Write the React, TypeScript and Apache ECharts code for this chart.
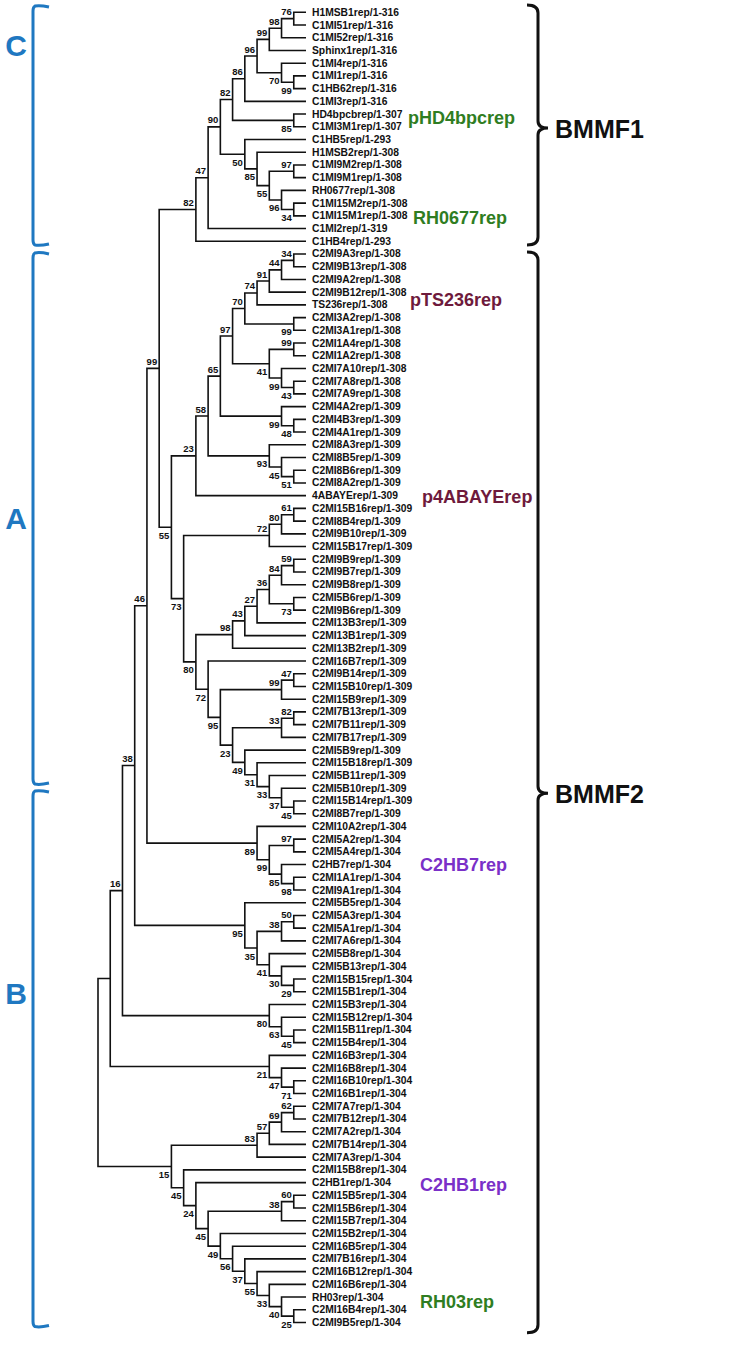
import React, { useEffect, useRef } from "react";
import * as echarts from "echarts";

const leafNames = [
  "H1MSB1rep/1-316", "C1MI51rep/1-316", "C1MI52rep/1-316", "Sphinx1rep/1-316",
  "C1MI4rep/1-316", "C1MI1rep/1-316", "C1HB62rep/1-316", "C1MI3rep/1-316",
  "HD4bpcbrep/1-307", "C1MI3M1rep/1-307", "C1HB5rep/1-293", "H1MSB2rep/1-308",
  "C1MI9M2rep/1-308", "C1MI9M1rep/1-308", "RH0677rep/1-308", "C1MI15M2rep/1-308",
  "C1MI15M1rep/1-308", "C1MI2rep/1-319", "C1HB4rep/1-293",
  "C2MI9A3rep/1-308", "C2MI9B13rep/1-308", "C2MI9A2rep/1-308", "C2MI9B12rep/1-308",
  "TS236rep/1-308", "C2MI3A2rep/1-308", "C2MI3A1rep/1-308", "C2MI1A4rep/1-308",
  "C2MI1A2rep/1-308", "C2MI7A10rep/1-308", "C2MI7A8rep/1-308", "C2MI7A9rep/1-308",
  "C2MI4A2rep/1-309", "C2MI4B3rep/1-309", "C2MI4A1rep/1-309", "C2MI8A3rep/1-309",
  "C2MI8B5rep/1-309", "C2MI8B6rep/1-309", "C2MI8A2rep/1-309", "4ABAYErep/1-309",
  "C2MI15B16rep/1-309", "C2MI8B4rep/1-309", "C2MI9B10rep/1-309", "C2MI15B17rep/1-309",
  "C2MI9B9rep/1-309", "C2MI9B7rep/1-309", "C2MI9B8rep/1-309", "C2MI5B6rep/1-309",
  "C2MI9B6rep/1-309", "C2MI13B3rep/1-309", "C2MI13B1rep/1-309", "C2MI13B2rep/1-309",
  "C2MI16B7rep/1-309", "C2MI9B14rep/1-309", "C2MI15B10rep/1-309", "C2MI15B9rep/1-309",
  "C2MI7B13rep/1-309", "C2MI7B11rep/1-309", "C2MI7B17rep/1-309", "C2MI5B9rep/1-309",
  "C2MI15B18rep/1-309", "C2MI5B11rep/1-309", "C2MI5B10rep/1-309", "C2MI15B14rep/1-309",
  "C2MI8B7rep/1-309",
  "C2MI10A2rep/1-304", "C2MI5A2rep/1-304", "C2MI5A4rep/1-304", "C2HB7rep/1-304",
  "C2MI1A1rep/1-304", "C2MI9A1rep/1-304", "C2MI5B5rep/1-304", "C2MI5A3rep/1-304",
  "C2MI5A1rep/1-304", "C2MI7A6rep/1-304", "C2MI5B8rep/1-304", "C2MI5B13rep/1-304",
  "C2MI15B15rep/1-304", "C2MI15B1rep/1-304", "C2MI15B3rep/1-304", "C2MI15B12rep/1-304",
  "C2MI15B11rep/1-304", "C2MI15B4rep/1-304", "C2MI16B3rep/1-304", "C2MI16B8rep/1-304",
  "C2MI16B10rep/1-304", "C2MI16B1rep/1-304", "C2MI7A7rep/1-304", "C2MI7B12rep/1-304",
  "C2MI7A2rep/1-304", "C2MI7B14rep/1-304", "C2MI7A3rep/1-304", "C2MI15B8rep/1-304",
  "C2HB1rep/1-304", "C2MI15B5rep/1-304", "C2MI15B6rep/1-304", "C2MI15B7rep/1-304",
  "C2MI15B2rep/1-304", "C2MI16B5rep/1-304", "C2MI7B16rep/1-304", "C2MI16B12rep/1-304",
  "C2MI16B6rep/1-304", "RH03rep/1-304", "C2MI16B4rep/1-304", "C2MI9B5rep/1-304",
];

// Topology (Newick, leaves = 1-based index into leafNames; internal label = bootstrap + a(bove)/b(elow))
const cladeC =
  "(((((((((1,2)76a,3)98a,4)99a,(5,(6,7)99b)70b)96a,8)86a,(9,10)85b)82a,(11,(12,((13,14)97a,(15,(16,17)34b)96b)55b)85b)50b)90a,18)47a,19)82a";
const node97 =
  "((((((20,21)34a,22)44a,23)91a,24)74a,(25,26)99b)70a,((27,28)99a,(29,(30,31)43b)99b)41b)97a";
const node23 = "(((" + node97 + ",(32,(33,34)48b)99b)65a,(35,(36,(37,38)51b)45b)93b)58a,39)23a";
const node72 = "(((40,41)61a,42)80a,43)72a";
const node98 = "((((((44,45)59a,46)84a,(47,48)73b)36a,49)27a,50)43a,51)98a";
const node95 =
  "(((53,54)47a,55)99a,(((56,57)82a,58)33a,(59,(60,(61,(62,(63,64)45b)37b)33b)31b)49b)23b)95b";
const node73 = "(" + node72 + ",(" + node98 + ",(52," + node95 + ")72b)80b)73b";
const node99 = "(" + cladeC + ",(" + node23 + "," + node73 + ")55b)99a";
const node89 = "(65,((66,67)97a,(68,(69,70)98b)85b)99b)89b";
const node95B = "(71,(((72,73)50a,74)38a,(75,(76,(77,78)29b)30b)41b)35b)95b";
const node80B = "(79,(80,(81,82)45b)63b)80b";
const node21 = "(83,(84,(85,86)71b)47b)21b";
const node16 = "(((" + node99 + "," + node89 + ")46a," + node95B + ")38a," + node80B + ")16a";
const node83 = "((((87,88)62a,89)69a,90)57a,91)83a";
const node45 =
  "(92,(93,(((94,95)60a,96)38a,(97,(98,(99,(100,(101,(102,(103,104)25b)40b)33b)55b)37b)56b)49b)45b)24b)45b";
const treeNewick = "((" + node16 + "," + node21 + "),(" + node83 + "," + node45 + ")15b)";

// Bracket annotations (leaf-index ranges)
const leftGroups = [
  { name: "C", from: -0.57, to: 18.37, textAt: 2.6 },
  { name: "A", from: 18.84, to: 60.75, textAt: 39.8 },
  { name: "B", from: 61.14, to: 103.4, textAt: 77.1 },
];
const rightGroups = [
  { name: "BMMF1", from: -0.57, to: 18.3, mid: 9.1 },
  { name: "BMMF2", from: 18.85, to: 103.8, mid: 61.4 },
];
const highlightLabels = [
  { text: "pHD4bpcrep", at: 8.3, x: 408, color: "#2f7d22" },
  { text: "RH0677rep", at: 16.2, x: 413, color: "#2f7d22" },
  { text: "pTS236rep", at: 22.6, x: 410, color: "#6e1a3c" },
  { text: "p4ABAYErep", at: 38.1, x: 422, color: "#6e1a3c" },
  { text: "C2HB7rep", at: 67.0, x: 420, color: "#7a30c8" },
  { text: "C2HB1rep", at: 92.2, x: 420, color: "#7a30c8" },
  { text: "RH03rep", at: 101.4, x: 420, color: "#2f7d22" },
];

type TNode = { children: TNode[]; leaf: number; label: string; pos: string; h: number; y: number };

function parseNewick(s: string): TNode {
  let i = 0;
  function read(): TNode {
    if (s[i] === "(") {
      i++;
      const children: TNode[] = [read()];
      while (s[i] === ",") {
        i++;
        children.push(read());
      }
      i++;
      let lab = "";
      while (i < s.length && /[0-9ab]/.test(s[i])) lab += s[i++];
      const pos = lab.endsWith("a") ? "a" : lab.endsWith("b") ? "b" : "";
      const label = pos ? lab.slice(0, -1) : lab;
      const h = Math.max(...children.map((c) => c.h)) + 1;
      const y = (children[0].y + children[children.length - 1].y) / 2;
      return { children, leaf: -1, label, pos, h, y };
    }
    let num = "";
    while (i < s.length && /[0-9]/.test(s[i])) num += s[i++];
    const idx = parseInt(num, 10) - 1;
    return { children: [], leaf: idx, label: "", pos: "", h: 0, y: idx };
  }
  return read();
}

const FONT = "'Liberation Sans', Arial, sans-serif";
const BLUE = "#1f78c1";

export default function App() {
  const ref = useRef<HTMLDivElement>(null);
  useEffect(() => {
    if (!ref.current) return;
    const chart = echarts.init(ref.current, undefined, { renderer: "svg" });
    const root = parseNewick(treeNewick);
    const branches: number[][] = [];
    const boots: number[][] = [];
    const bootText: string[] = [];
    const bootPos: string[] = [];
    const walk = (n: TNode) => {
      if (n.children.length === 0) return;
      const a = n.children[0];
      const b = n.children[n.children.length - 1];
      branches.push([-n.h, a.y, b.y, -a.h, -b.h]);
      if (n.label) {
        boots.push([-n.h, n.y]);
        bootText.push(n.label);
        bootPos.push(n.pos);
      }
      n.children.forEach(walk);
    };
    walk(root);
    const leafData = leafNames.map((_, i) => [0, i]);

    chart.setOption({
      animation: false,
      backgroundColor: "#ffffff",
      grid: { left: 98, right: 444, top: 12.3, bottom: 23.5 },
      xAxis: { type: "value", min: -17, max: 0, show: false },
      yAxis: { type: "value", min: 0, max: 103, inverse: true, show: false },
      series: [
        {
          type: "custom",
          name: "branches",
          clip: false,
          data: branches,
          renderItem: (params: any, api: any) => {
            const n = api.coord([api.value(0), api.value(1)]);
            const n2 = api.coord([api.value(0), api.value(2)]);
            const a = api.coord([api.value(3), api.value(1)]);
            const b = api.coord([api.value(4), api.value(2)]);
            return {
              type: "polyline",
              shape: { points: [a, n, n2, b] },
              style: { stroke: "#111", lineWidth: 1.6, fill: "none", lineJoin: "miter" },
            };
          },
        },
        {
          type: "custom",
          name: "leaves",
          clip: false,
          data: leafData,
          renderItem: (params: any, api: any) => {
            const p = api.coord([api.value(0), api.value(1)]);
            return {
              type: "text",
              x: p[0] + 6,
              y: p[1],
              style: {
                text: leafNames[params.dataIndex],
                fill: "#111",
                font: `bold 10.3px ${FONT}`,
                align: "left",
                verticalAlign: "middle",
              },
            };
          },
        },
        {
          type: "custom",
          name: "bootstrap",
          clip: false,
          data: boots,
          renderItem: (params: any, api: any) => {
            const p = api.coord([api.value(0), api.value(1)]);
            const up = bootPos[params.dataIndex] === "a";
            return {
              type: "text",
              x: p[0] - 2,
              y: p[1] + (up ? -7 : 8),
              style: {
                text: bootText[params.dataIndex],
                fill: "#111",
                font: `bold 9.5px ${FONT}`,
                align: "right",
                verticalAlign: "middle",
              },
            };
          },
        },
        {
          type: "custom",
          name: "groupsLeft",
          clip: false,
          data: leftGroups.map((g) => [0, g.from, g.to, g.textAt]),
          renderItem: (params: any, api: any) => {
            const t = api.coord([0, api.value(1)])[1];
            const b = api.coord([0, api.value(2)])[1];
            const ty = api.coord([0, api.value(3)])[1];
            const x = 33;
            return {
              type: "group",
              children: [
                {
                  type: "path",
                  shape: {
                    pathData: `M49 ${t + 2} Q40 ${t} ${x + 2} ${t + 1} Q${x} ${t + 2} ${x} ${t + 6} L${x} ${b - 6} Q${x} ${b - 2} ${x + 2} ${b - 1} Q40 ${b} 49 ${b - 2}`,
                  },
                  style: { stroke: BLUE, lineWidth: 3, fill: "none" },
                },
                {
                  type: "text",
                  x: 16,
                  y: ty,
                  style: {
                    text: leftGroups[params.dataIndex].name,
                    fill: BLUE,
                    font: `bold 30px ${FONT}`,
                    align: "center",
                    verticalAlign: "middle",
                  },
                },
              ],
            };
          },
        },
        {
          type: "custom",
          name: "groupsRight",
          clip: false,
          data: rightGroups.map((g) => [0, g.from, g.to, g.mid]),
          renderItem: (params: any, api: any) => {
            const t = api.coord([0, api.value(1)])[1];
            const b = api.coord([0, api.value(2)])[1];
            const m = api.coord([0, api.value(3)])[1];
            const x = 538;
            return {
              type: "group",
              children: [
                {
                  type: "path",
                  shape: {
                    pathData: `M527 ${t} Q${x} ${t} ${x} ${t + 8} L${x} ${m - 7} Q${x} ${m} 548 ${m} Q${x} ${m} ${x} ${m + 7} L${x} ${b - 8} Q${x} ${b} 527 ${b}`,
                  },
                  style: { stroke: "#111", lineWidth: 3, fill: "none" },
                },
                {
                  type: "text",
                  x: 555,
                  y: m + 1,
                  style: {
                    text: rightGroups[params.dataIndex].name,
                    fill: "#111",
                    font: `bold 25px ${FONT}`,
                    align: "left",
                    verticalAlign: "middle",
                  },
                },
              ],
            };
          },
        },
        {
          type: "custom",
          name: "highlights",
          clip: false,
          data: highlightLabels.map((h) => [0, h.at]),
          renderItem: (params: any, api: any) => {
            const y = api.coord([0, api.value(1)])[1];
            const h = highlightLabels[params.dataIndex];
            return {
              type: "text",
              x: h.x,
              y,
              style: {
                text: h.text,
                fill: h.color,
                font: `bold 18px ${FONT}`,
                align: "left",
                verticalAlign: "middle",
              },
            };
          },
        },
      ],
    });
    return () => chart.dispose();
  }, []);
  return (
    <div
      ref={ref}
      style={{ position: "fixed", left: 0, top: 0, width: 750, height: 1346, background: "#fff" }}
    />
  );
}
